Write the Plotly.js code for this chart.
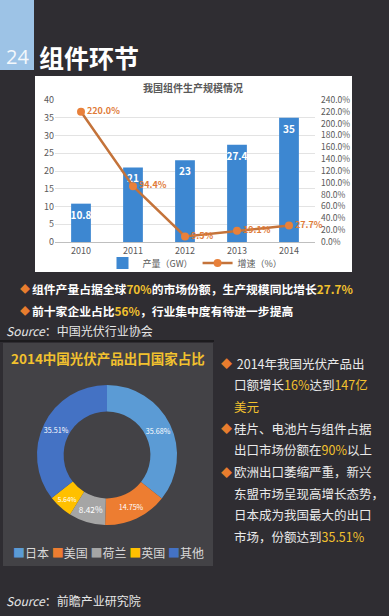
<!DOCTYPE html>
<html><head><meta charset="utf-8">
<script src="https://cdn.plot.ly/plotly-3.0.1.min.js"></script>
<style>html,body{margin:0;padding:0;background:#2f2d32;}#c{width:389px;height:616px;}</style>
</head><body><div id="c"></div>
<script>
const years = ['2010','2011','2012','2013','2014'];
const output = [10.8, 21, 23, 27.4, 35];
const growth = [2.20, 0.944, 0.095, 0.191, 0.277];
const countries = ['日本','美国','荷兰','英国','其他'];
const shares = [35.68, 14.75, 8.42, 5.64, 35.51];
const pieColors = ['#5b9bd5','#ed7d31','#a5a5a5','#ffc000','#4472c4'];

const W = 389, H = 616;
const X = p => p / W, Y = p => 1 - p / H;
const FONT = '"Noto Sans CJK SC", "Microsoft YaHei", sans-serif';
const GOLD = '#f2c12e';
const g = t => '<span style="color:' + GOLD + '">' + t + '</span>';

const traces = [
  {type:'bar', x: years, y: output, name:'产量（GW）', xaxis:'x', yaxis:'y',
   marker:{color:'#3d87d1'}, text: output.map(String), textposition:'inside',
   insidetextanchor:'end', textangle:0, constraintext:'none',
   textfont:{color:'#ffffff', size:10, family:FONT, weight:'bold'},
   cliponaxis:false, hoverinfo:'skip'},
  {type:'scatter', mode:'lines+markers+text', x: years, y: growth, name:'增速（%）',
   xaxis:'x', yaxis:'y2', line:{color:'#c4733a', width:2.5},
   marker:{color:'#e8803a', size:8},
   texttemplate:'%{y:.1%}', textposition:'middle right',
   textfont:{color:'#e07b39', size:9, family:FONT, weight:'bold'}, cliponaxis:false, hoverinfo:'skip'},
  {type:'pie', labels: countries, values: shares, sort:false, direction:'clockwise', rotation:0,
   hole:0.62, domain:{x:[X(37), X(177)], y:[Y(525), Y(385)]},
   marker:{colors: pieColors, line:{width:0}},
   texttemplate:'%{value:.2f}%', textposition:'inside', insidetextorientation:'horizontal',
   textfont:{color:'#ffffff', size:11, family:FONT}, showlegend:false, hoverinfo:'skip'}
];

const shapes = [
  {type:'rect', xref:'paper', yref:'paper', x0:X(0), x1:X(34), y0:Y(70), y1:Y(0), fillcolor:'#9dc3e6', line:{width:0}, layer:'below'},
  {type:'rect', xref:'paper', yref:'paper', x0:X(35), x1:X(352), y0:Y(272), y1:Y(76), fillcolor:'#ffffff', line:{width:0}, layer:'below'},
  {type:'rect', xref:'paper', yref:'paper', x0:X(3), x1:X(213), y0:Y(566), y1:Y(343), fillcolor:'#434246', line:{width:0}, layer:'below'},
  {type:'line', xref:'paper', yref:'paper', x0:X(0), x1:X(214), y0:Y(341), y1:Y(341), line:{color:'#1c1b1e', width:2}, layer:'below'}
];

const ann = [];
function A(px, py, text, opts) {
  ann.push(Object.assign({xref:'paper', yref:'paper', x:X(px), y:Y(py), text:text, showarrow:false,
    xanchor:'left', yanchor:'middle', font:{family:FONT, size:12, color:'#ffffff'}}, opts||{}));
}
A(17, 56, '24', {xanchor:'center', font:{family:'"Open Sans", sans-serif', size:20, color:'#f4f8fc'}});
A(37, 57, '<b>组件环节</b>', {font:{family:FONT, size:25, color:'#ffffff'}});
A(193, 87, '<b>我国组件生产规模情况</b>', {xanchor:'center', font:{family:FONT, size:10, color:'#595959'}});

A(18, 289, '◆', {font:{family:FONT, size:10, color:'#e87d2e'}});
A(30, 289, '<b>组件产量占据全球' + g('70%') + '的市场份额，生产规模同比增长' + g('27.7%') + '</b>', {font:{family:FONT, size:11.8, color:'#ffffff'}});
A(18, 310, '◆', {font:{family:FONT, size:10, color:'#e87d2e'}});
A(30, 310, '<b>前十家企业占比' + g('56%') + '，行业集中度有待进一步提高</b>', {font:{family:FONT, size:11.8, color:'#ffffff'}});
A(4, 330, '<i>Source</i>：中国光伏行业协会', {font:{family:FONT, size:12, color:'#e6e6e6'}});

A(108, 358, '<b>2014中国光伏产品出口国家占比</b>', {xanchor:'center', font:{family:FONT, size:13.5, color:GOLD}});

const legendItems = countries.map((c, i) => '<span style="color:' + pieColors[i] + '">■</span>' + c).join(' ');
A(108, 552, legendItems, {xanchor:'center', font:{family:FONT, size:12, color:'#d9d9d9'}});

const rightLines = [
  [true, ' 2014年我国光伏产品出'],
  [false, '口额增长' + g('16%') + '达到' + g('147亿')],
  [false, g('美元')],
  [true, '硅片、电池片与组件占据'],
  [false, '出口市场份额在' + g('90%') + '以上'],
  [true, '欧洲出口萎缩严重，新兴'],
  [false, '东盟市场呈现高增长态势，'],
  [false, '日本成为我国最大的出口'],
  [false, '市场，份额达到' + g('35.51%')]
];
rightLines.forEach((l, i) => {
  const py = 363 + 21.7 * i;
  if (l[0]) A(219, py, '◆', {font:{family:FONT, size:11, color:'#e87d2e'}});
  A(232, py, l[1], {font:{family:FONT, size:12.5, color:'#eaeaea'}});
});
A(4, 600, '<i>Source</i>：前瞻产业研究院', {font:{family:FONT, size:12, color:'#e6e6e6'}});

const layout = {
  width: W, height: H, margin:{l:0, r:0, t:0, b:0},
  paper_bgcolor:'#2f2d32', plot_bgcolor:'rgba(0,0,0,0)',
  font:{family:FONT, color:'#595959'},
  bargap:0.62,
  xaxis:{domain:[X(55), X(315)], anchor:'y', type:'category', showgrid:false,
    showline:true, linecolor:'#bfbfbf', linewidth:1, ticks:'', tickfont:{size:9, color:'#595959'}, fixedrange:true},
  yaxis:{domain:[Y(242), Y(100)], anchor:'x', range:[0,40], dtick:5, showgrid:true, gridcolor:'#e3e3e3',
    zeroline:false, showline:false, tickfont:{size:9, color:'#595959'}, fixedrange:true},
  yaxis2:{overlaying:'y', side:'right', anchor:'x', range:[0,2.4], dtick:0.2, tickformat:'.1%',
    showgrid:false, zeroline:false, showline:false, ticklabelstandoff:5,
    tickfont:{size:8.5, color:'#595959'}, fixedrange:true},
  showlegend:true,
  legend:{orientation:'h', x:X(195), xanchor:'center', y:Y(263), yanchor:'middle',
    font:{size:9, color:'#595959', family:FONT}, bgcolor:'rgba(0,0,0,0)', itemwidth:30, tracegroupgap:0},
  shapes: shapes, annotations: ann
};
Plotly.newPlot('c', traces, layout, {displayModeBar:false, staticPlot:true});
</script></body></html>
